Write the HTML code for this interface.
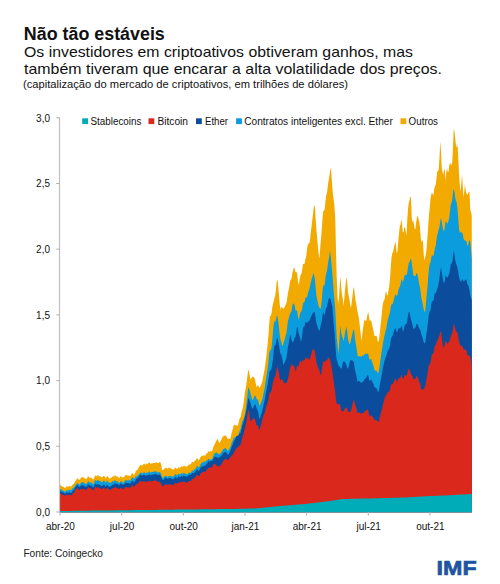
<!DOCTYPE html>
<html><head><meta charset="utf-8">
<style>
html,body{margin:0;padding:0;background:#fff;}
body{width:500px;height:584px;position:relative;overflow:hidden;font-family:"Liberation Sans",sans-serif;color:#000;}
svg{position:absolute;left:0;top:0;}
</style></head><body>
<svg width="500" height="584" viewBox="0 0 500 584" font-family="Liberation Sans">
<g fill="#111">
<text x="23.8" y="39.5" font-size="17.6" font-weight="bold" textLength="141" lengthAdjust="spacingAndGlyphs">Não tão estáveis</text>
<text x="24" y="57" font-size="14.6" textLength="389" lengthAdjust="spacingAndGlyphs">Os investidores em criptoativos obtiveram ganhos, mas</text>
<text x="24" y="73.6" font-size="14.6" textLength="418" lengthAdjust="spacingAndGlyphs">também tiveram que encarar a alta volatilidade dos preços.</text>
<text x="23" y="88" font-size="11" textLength="325" lengthAdjust="spacingAndGlyphs">(capitalização do mercado de criptoativos, em trilhões de dólares)</text>
</g>
<g shape-rendering="geometricPrecision">
<polygon points="60,512.2 60.00,484.4 60.75,485.4 61.50,486.0 62.25,486.2 63.00,486.9 63.75,487.1 64.50,487.7 65.25,488.0 66.00,486.7 66.75,486.3 67.50,486.9 68.25,486.6 69.00,486.0 69.75,486.1 70.50,486.5 71.25,486.4 72.00,485.5 72.75,484.2 73.50,483.9 74.25,483.1 75.00,481.2 75.75,480.4 76.50,479.6 77.25,478.1 78.00,478.8 78.75,479.7 79.50,479.8 80.25,479.2 81.00,477.6 81.75,477.2 82.50,477.3 83.25,477.2 84.00,477.8 84.75,478.3 85.50,478.9 86.25,479.2 87.00,478.3 87.75,476.6 88.50,476.3 89.25,477.4 90.00,477.8 90.75,477.7 91.50,477.8 92.25,478.6 93.00,479.6 93.75,479.0 94.50,476.7 95.25,475.2 96.00,476.0 96.75,476.2 97.50,475.2 98.25,475.4 99.00,476.1 99.75,476.2 100.50,476.5 101.25,477.2 102.00,477.4 102.75,476.7 103.50,476.0 104.25,475.9 105.00,477.2 105.75,478.2 106.50,476.9 107.25,475.7 108.00,476.8 108.75,478.0 109.50,478.4 110.25,478.2 111.00,477.9 111.75,477.3 112.50,476.4 113.25,476.6 114.00,476.5 114.75,475.4 115.50,475.5 116.25,476.5 117.00,476.6 117.75,476.5 118.50,477.6 119.25,478.2 120.00,477.0 120.75,476.0 121.50,476.7 122.25,477.4 123.00,477.5 123.75,477.3 124.50,476.6 125.25,475.2 126.00,474.7 126.75,475.2 127.50,475.4 128.25,475.4 129.00,475.6 129.75,475.9 130.50,475.9 131.25,474.6 132.00,473.0 132.75,473.4 133.50,474.6 134.25,474.7 135.00,473.3 135.75,471.3 136.50,470.3 137.25,469.9 138.00,468.9 138.75,467.6 139.50,466.3 140.25,465.3 141.00,464.7 141.75,465.4 142.50,465.6 143.25,464.5 144.00,463.6 144.75,464.0 145.50,464.8 146.25,464.1 147.00,463.6 147.75,463.8 148.50,463.1 149.25,462.3 150.00,463.3 150.75,463.9 151.50,463.2 152.25,463.2 153.00,463.3 153.75,462.9 154.50,462.9 155.25,462.9 156.00,462.3 156.75,462.6 157.50,463.1 158.25,463.0 159.00,462.4 159.75,462.0 160.50,462.7 161.25,464.7 162.00,469.8 162.75,470.2 163.50,470.1 164.25,468.7 165.00,468.0 165.75,467.7 166.50,468.0 167.25,468.6 168.00,468.4 168.75,467.6 169.50,467.5 170.25,467.9 171.00,468.5 171.75,468.9 172.50,469.2 173.25,469.7 174.00,469.1 174.75,468.1 175.50,467.5 176.25,468.2 177.00,469.2 177.75,468.3 178.50,466.9 179.25,467.3 180.00,468.0 180.75,466.8 181.50,466.2 182.25,467.1 183.00,466.4 183.75,465.6 184.50,466.0 185.25,466.2 186.00,466.6 186.75,466.8 187.50,466.1 188.25,465.2 189.00,464.4 189.75,464.2 190.50,464.5 191.25,463.6 192.00,462.1 192.75,462.1 193.50,462.4 194.25,461.5 195.00,460.7 195.75,460.0 196.50,458.9 197.25,458.2 198.00,459.0 198.75,460.4 199.50,459.5 200.25,457.6 201.00,456.5 201.75,455.7 202.50,455.7 203.25,455.7 204.00,455.0 204.75,455.8 205.50,455.4 206.25,453.6 207.00,453.6 207.75,452.5 208.50,451.0 209.25,451.7 210.00,451.9 210.75,450.9 211.50,451.0 212.25,450.5 213.00,448.2 213.75,446.0 214.50,444.7 215.25,443.0 216.00,441.6 216.75,440.3 217.50,438.5 218.25,440.2 219.00,442.4 219.75,443.1 220.50,441.2 221.25,439.7 222.00,437.9 222.75,436.4 223.50,436.2 224.25,435.9 225.00,435.4 225.75,435.2 226.50,436.5 227.25,438.2 228.00,439.0 228.75,438.7 229.50,438.8 230.25,439.3 231.00,436.0 231.75,432.3 232.50,429.9 233.25,427.0 234.00,424.6 234.75,425.0 235.50,425.3 236.25,424.9 237.00,425.8 237.75,425.8 238.50,423.3 239.25,419.8 240.00,418.1 240.75,416.4 241.50,412.6 242.25,409.8 243.00,407.2 243.75,401.9 244.50,395.6 245.25,390.5 246.00,386.4 246.75,381.5 247.50,375.5 248.25,369.4 249.00,371.6 249.75,375.6 250.50,379.7 251.25,378.3 252.00,377.5 252.75,376.2 253.50,377.1 254.25,377.8 255.00,379.4 255.75,383.6 256.50,387.3 257.25,386.1 258.00,384.9 258.75,386.8 259.50,388.3 260.25,386.6 261.00,384.9 261.75,382.9 262.50,380.6 263.25,376.3 264.00,372.3 264.75,368.6 265.50,362.6 266.25,357.1 267.00,349.7 267.75,343.0 268.50,334.4 269.25,323.2 270.00,315.2 270.75,316.3 271.50,313.5 272.25,307.7 273.00,303.4 273.75,301.2 274.50,298.3 275.25,295.2 276.00,289.6 276.75,281.0 277.50,279.9 278.25,287.5 279.00,295.1 279.75,304.7 280.50,310.0 281.25,307.2 282.00,306.8 282.75,308.2 283.50,308.9 284.25,307.8 285.00,305.9 285.75,304.4 286.50,303.0 287.25,298.0 288.00,292.6 288.75,289.7 289.50,285.1 290.25,280.6 291.00,279.8 291.75,277.5 292.50,272.3 293.25,270.1 294.00,267.6 294.75,268.7 295.50,272.0 296.25,272.2 297.00,272.4 297.75,279.1 298.50,284.9 299.25,282.0 300.00,277.1 300.75,274.7 301.50,273.5 302.25,269.6 303.00,263.9 303.75,263.9 304.50,263.9 305.25,259.6 306.00,257.7 306.75,251.4 307.50,246.0 308.25,243.8 309.00,243.6 309.75,242.1 310.50,235.1 311.25,228.7 312.00,222.2 312.75,216.3 313.50,209.6 314.25,204.8 315.00,207.5 315.75,220.0 316.50,231.0 317.25,238.7 318.00,247.3 318.75,254.7 319.50,258.6 320.25,247.2 321.00,238.4 321.75,229.8 322.50,218.5 323.25,211.0 324.00,210.7 324.75,209.0 325.50,200.8 326.25,195.0 327.00,192.7 327.75,186.4 328.50,180.9 329.25,177.3 330.00,171.3 330.75,167.5 331.50,175.3 332.25,186.2 333.00,194.9 333.75,200.5 334.50,207.2 335.25,218.4 336.00,250.8 336.75,278.5 337.50,295.6 338.25,304.1 339.00,297.7 339.75,284.4 340.50,276.5 341.25,287.8 342.00,294.4 342.75,298.8 343.50,305.7 344.25,299.1 345.00,290.3 345.75,283.3 346.50,276.7 347.25,282.5 348.00,292.0 348.75,296.6 349.50,299.8 350.25,305.0 351.00,308.0 351.75,302.1 352.50,295.5 353.25,289.5 354.00,286.9 354.75,294.4 355.50,300.0 356.25,303.7 357.00,308.8 357.75,312.8 358.50,315.9 359.25,321.5 360.00,327.6 360.75,334.4 361.50,341.2 362.25,334.3 363.00,328.7 363.75,323.4 364.50,319.5 365.25,320.3 366.00,321.6 366.75,319.1 367.50,314.5 368.25,311.8 369.00,317.2 369.75,320.7 370.50,320.2 371.25,320.7 372.00,324.6 372.75,327.7 373.50,331.3 374.25,335.3 375.00,336.2 375.75,335.7 376.50,335.8 377.25,338.8 378.00,341.9 378.75,341.5 379.50,335.4 380.25,328.5 381.00,321.2 381.75,314.2 382.50,305.9 383.25,302.1 384.00,300.4 384.75,298.4 385.50,292.8 386.25,291.4 387.00,295.5 387.75,295.0 388.50,290.4 389.25,286.3 390.00,278.8 390.75,267.6 391.50,257.6 392.25,253.5 393.00,252.0 393.75,248.7 394.50,245.0 395.25,241.3 396.00,246.0 396.75,253.4 397.50,250.9 398.25,241.5 399.00,233.6 399.75,227.1 400.50,224.7 401.25,219.3 402.00,222.9 402.75,232.3 403.50,232.3 404.25,227.5 405.00,227.4 405.75,231.7 406.50,235.9 407.25,220.2 408.00,209.2 408.75,202.8 409.50,200.5 410.25,196.7 411.00,197.4 411.75,217.7 412.50,222.2 413.25,220.4 414.00,224.5 414.75,229.3 415.50,229.0 416.25,221.6 417.00,216.9 417.75,215.8 418.50,219.3 419.25,221.5 420.00,227.3 420.75,237.9 421.50,242.6 422.25,239.7 423.00,242.3 423.75,255.3 424.50,260.6 425.25,257.1 426.00,253.8 426.75,246.2 427.50,236.6 428.25,225.0 429.00,214.8 429.75,207.8 430.50,198.8 431.25,194.4 432.00,192.2 432.75,194.8 433.50,194.7 434.25,188.9 435.00,185.9 435.75,184.8 436.50,178.0 437.25,171.6 438.00,171.1 438.75,169.3 439.50,157.2 440.25,141.5 441.00,151.4 441.75,167.9 442.50,172.3 443.25,174.7 444.00,170.6 444.75,168.8 445.50,181.3 446.25,172.2 447.00,168.0 447.75,172.1 448.50,171.7 449.25,165.7 450.00,162.4 450.75,164.3 451.50,165.2 452.25,162.2 453.00,146.4 453.75,128.5 454.50,131.7 455.25,139.1 456.00,145.6 456.75,147.5 457.50,144.1 458.25,157.1 459.00,174.0 459.75,184.4 460.50,191.9 461.25,184.7 462.00,173.9 462.75,186.1 463.50,197.7 464.25,191.2 465.00,184.1 465.75,191.5 466.50,193.7 467.25,194.4 468.00,193.9 468.75,191.8 469.50,191.8 470.25,209.6 471.00,212.1 471.75,215.7 472,512.2" fill="#F2A900"/>
<polygon points="60,512.2 60.00,488.4 60.75,489.3 61.50,489.8 62.25,490.0 63.00,490.7 63.75,490.8 64.50,491.4 65.25,491.7 66.00,490.4 66.75,490.0 67.50,490.5 68.25,490.2 69.00,489.7 69.75,489.7 70.50,490.1 71.25,490.0 72.00,489.1 72.75,487.9 73.50,487.8 74.25,487.1 75.00,485.4 75.75,484.7 76.50,484.0 77.25,482.7 78.00,483.4 78.75,484.4 79.50,484.5 80.25,484.0 81.00,482.6 81.75,482.3 82.50,482.3 83.25,482.2 84.00,482.8 84.75,483.2 85.50,483.9 86.25,484.1 87.00,483.2 87.75,481.6 88.50,481.3 89.25,482.3 90.00,482.6 90.75,482.5 91.50,482.6 92.25,483.3 93.00,484.2 93.75,483.7 94.50,481.5 95.25,480.0 96.00,480.7 96.75,480.9 97.50,479.9 98.25,480.2 99.00,480.8 99.75,480.9 100.50,481.2 101.25,481.9 102.00,482.1 102.75,481.4 103.50,480.7 104.25,480.6 105.00,481.8 105.75,482.8 106.50,481.5 107.25,480.4 108.00,481.4 108.75,482.6 109.50,482.9 110.25,482.7 111.00,482.5 111.75,482.0 112.50,481.1 113.25,481.3 114.00,481.2 114.75,480.2 115.50,480.4 116.25,481.3 117.00,481.5 117.75,481.3 118.50,482.4 119.25,483.0 120.00,481.9 120.75,481.0 121.50,481.6 122.25,482.4 123.00,482.4 123.75,482.3 124.50,481.6 125.25,480.3 126.00,479.9 126.75,480.4 127.50,480.4 128.25,480.2 129.00,480.3 129.75,480.4 130.50,480.3 131.25,478.9 132.00,477.2 132.75,477.4 133.50,478.3 134.25,478.6 135.00,477.9 135.75,476.6 136.50,476.2 137.25,476.3 138.00,475.5 138.75,474.5 139.50,473.5 140.25,472.8 141.00,472.5 141.75,473.3 142.50,473.6 143.25,472.7 144.00,471.9 144.75,472.5 145.50,473.3 146.25,472.9 147.00,472.5 147.75,472.8 148.50,472.2 149.25,471.3 150.00,472.2 150.75,472.7 151.50,472.0 152.25,471.9 153.00,471.9 153.75,471.5 154.50,471.4 155.25,471.4 156.00,471.2 156.75,471.7 157.50,472.4 158.25,472.5 159.00,472.2 159.75,472.1 160.50,472.9 161.25,474.4 162.00,477.4 162.75,477.8 163.50,477.8 164.25,476.6 165.00,476.0 165.75,475.7 166.50,476.1 167.25,476.8 168.00,476.7 168.75,475.9 169.50,475.7 170.25,475.9 171.00,476.2 171.75,476.5 172.50,476.5 173.25,476.8 174.00,476.0 174.75,474.8 175.50,474.0 176.25,474.6 177.00,475.6 177.75,474.8 178.50,473.5 179.25,473.9 180.00,474.7 180.75,473.7 181.50,473.1 182.25,474.1 183.00,473.4 183.75,472.8 184.50,473.3 185.25,473.6 186.00,474.1 186.75,474.5 187.50,474.0 188.25,473.3 189.00,472.7 189.75,472.6 190.50,472.9 191.25,472.0 192.00,470.5 192.75,470.5 193.50,470.7 194.25,469.8 195.00,469.0 195.75,468.2 196.50,466.9 197.25,466.1 198.00,466.7 198.75,467.8 199.50,466.7 200.25,464.7 201.00,463.5 201.75,462.5 202.50,462.4 203.25,462.2 204.00,461.3 204.75,461.9 205.50,461.6 206.25,460.2 207.00,460.5 207.75,459.7 208.50,458.5 209.25,459.5 210.00,459.9 210.75,459.2 211.50,459.4 212.25,459.0 213.00,456.8 213.75,454.8 214.50,453.6 215.25,453.0 216.00,452.8 216.75,452.6 217.50,453.4 218.25,453.8 219.00,454.2 219.75,454.2 220.50,453.1 221.25,452.4 222.00,451.4 222.75,449.7 223.50,449.0 224.25,448.7 225.00,448.2 225.75,448.0 226.50,449.1 227.25,450.4 228.00,450.8 228.75,450.1 229.50,448.5 230.25,447.2 231.00,445.1 231.75,442.6 232.50,441.3 233.25,439.5 234.00,437.6 234.75,437.5 235.50,437.2 236.25,436.3 237.00,436.6 237.75,436.6 238.50,434.7 239.25,431.9 240.00,430.3 240.75,428.4 241.50,424.5 242.25,421.6 243.00,420.3 243.75,418.4 244.50,415.7 245.25,412.5 246.00,407.3 246.75,401.4 247.50,394.5 248.25,387.4 249.00,388.2 249.75,390.7 250.50,393.3 251.25,396.3 252.00,399.4 252.75,399.9 253.50,398.3 254.25,396.4 255.00,395.2 255.75,396.4 256.50,398.9 257.25,399.4 258.00,399.8 258.75,403.1 259.50,406.1 260.25,404.4 261.00,402.7 261.75,400.7 262.50,398.5 263.25,394.5 264.00,391.0 264.75,387.7 265.50,382.3 266.25,377.4 267.00,372.4 267.75,367.7 268.50,361.5 269.25,352.9 270.00,350.1 270.75,350.6 271.50,347.8 272.25,340.8 273.00,331.5 273.75,324.3 274.50,321.0 275.25,321.7 276.00,320.1 276.75,315.7 277.50,316.3 278.25,321.8 279.00,327.4 279.75,334.8 280.50,339.8 281.25,341.5 282.00,345.3 282.75,345.9 283.50,342.9 284.25,340.8 285.00,337.9 285.75,335.3 286.50,332.4 287.25,326.3 288.00,320.8 288.75,318.4 289.50,315.7 290.25,313.0 291.00,312.5 291.75,309.9 292.50,304.8 293.25,304.1 294.00,303.3 294.75,305.9 295.50,310.4 296.25,310.5 297.00,310.2 297.75,315.4 298.50,320.0 299.25,317.5 300.00,313.5 300.75,311.8 301.50,311.2 302.25,308.2 303.00,303.2 303.75,302.2 304.50,302.2 305.25,298.5 306.00,296.8 306.75,298.0 307.50,295.4 308.25,292.1 309.00,290.5 309.75,287.8 310.50,283.8 311.25,281.0 312.00,278.0 312.75,275.6 313.50,273.1 314.25,275.6 315.00,280.2 315.75,289.0 316.50,296.2 317.25,299.7 318.00,303.4 318.75,306.2 319.50,307.7 320.25,309.5 321.00,306.7 321.75,300.7 322.50,291.2 323.25,285.1 324.00,286.0 324.75,284.6 325.50,277.6 326.25,273.3 327.00,271.3 327.75,265.5 328.50,260.5 329.25,256.8 330.00,250.6 330.75,256.7 331.50,265.1 332.25,272.6 333.00,282.4 333.75,292.5 334.50,300.7 335.25,310.4 336.00,324.6 336.75,337.4 337.50,345.1 338.25,353.7 339.00,347.5 339.75,334.3 340.50,325.6 341.25,332.9 342.00,336.3 342.75,337.7 343.50,341.3 344.25,337.6 345.00,332.7 345.75,329.4 346.50,326.4 347.25,331.6 348.00,339.0 348.75,342.3 349.50,344.2 350.25,343.1 351.00,339.7 351.75,336.7 352.50,333.1 353.25,330.1 354.00,329.7 354.75,336.8 355.50,342.3 356.25,346.1 357.00,351.2 357.75,356.4 358.50,356.3 359.25,356.1 360.00,356.4 360.75,356.5 361.50,356.7 362.25,355.2 363.00,355.4 363.75,355.7 364.50,354.1 365.25,353.8 366.00,353.8 366.75,354.1 367.50,353.4 368.25,354.1 369.00,357.9 369.75,359.9 370.50,359.1 371.25,359.2 372.00,361.8 372.75,363.7 373.50,366.0 374.25,369.6 375.00,370.8 375.75,370.4 376.50,370.4 377.25,371.9 378.00,373.5 378.75,371.7 379.50,366.8 380.25,361.1 381.00,355.8 381.75,351.1 382.50,346.3 383.25,341.5 384.00,337.8 384.75,334.2 385.50,331.2 386.25,328.6 387.00,324.2 387.75,320.0 388.50,317.2 389.25,314.9 390.00,312.4 390.75,307.2 391.50,304.1 392.25,304.4 393.00,303.1 393.75,300.3 394.50,297.3 395.25,294.4 396.00,294.8 396.75,296.8 397.50,294.7 398.25,290.7 399.00,288.2 399.75,287.0 400.50,284.8 401.25,279.9 402.00,279.3 402.75,282.7 403.50,280.4 404.25,275.9 405.00,274.7 405.75,275.0 406.50,275.2 407.25,272.4 408.00,267.3 408.75,263.5 409.50,262.0 410.25,260.0 411.00,258.3 411.75,263.3 412.50,268.6 413.25,274.9 414.00,275.8 414.75,276.2 415.50,276.2 416.25,273.6 417.00,273.3 417.75,275.7 418.50,279.7 419.25,284.3 420.00,287.6 420.75,292.5 421.50,298.8 422.25,301.6 423.00,305.7 423.75,309.7 424.50,312.0 425.25,310.6 426.00,302.3 426.75,294.5 427.50,286.4 428.25,276.6 429.00,268.3 429.75,263.8 430.50,262.8 431.25,257.7 432.00,254.5 432.75,255.9 433.50,256.0 434.25,251.4 435.00,247.7 435.75,245.4 436.50,239.7 437.25,235.0 438.00,232.5 438.75,229.2 439.50,226.9 440.25,221.5 441.00,218.1 441.75,221.4 442.50,226.6 443.25,229.9 444.00,231.4 444.75,227.8 445.50,221.8 446.25,221.3 447.00,223.6 447.75,223.2 448.50,220.7 449.25,217.6 450.00,211.6 450.75,204.8 451.50,202.6 452.25,200.0 453.00,192.3 453.75,188.7 454.50,192.2 455.25,198.0 456.00,201.1 456.75,202.7 457.50,209.5 458.25,218.4 459.00,228.9 459.75,232.3 460.50,232.6 461.25,232.8 462.00,231.9 462.75,234.5 463.50,238.6 464.25,239.9 465.00,240.7 465.75,240.6 466.50,241.6 467.25,245.2 468.00,245.7 468.75,242.0 469.50,240.1 470.25,242.1 471.00,249.7 471.75,258.4 472,512.2" fill="#0A9CDC"/>
<polygon points="60,512.2 60.00,490.3 60.75,491.2 61.50,491.7 62.25,492.0 63.00,492.6 63.75,492.8 64.50,493.4 65.25,493.7 66.00,492.6 66.75,492.3 67.50,492.9 68.25,492.7 69.00,492.3 69.75,492.4 70.50,492.9 71.25,492.9 72.00,492.1 72.75,490.8 73.50,490.5 74.25,489.7 75.00,487.8 75.75,487.0 76.50,486.1 77.25,484.8 78.00,485.6 78.75,486.7 79.50,487.0 80.25,486.6 81.00,485.4 81.75,485.2 82.50,485.3 83.25,485.2 84.00,485.8 84.75,486.2 85.50,486.8 86.25,487.0 87.00,486.1 87.75,484.6 88.50,484.3 89.25,485.3 90.00,485.6 90.75,485.6 91.50,485.7 92.25,486.6 93.00,487.6 93.75,487.1 94.50,485.0 95.25,483.7 96.00,484.5 96.75,484.8 97.50,483.9 98.25,484.2 99.00,484.8 99.75,484.9 100.50,485.2 101.25,485.9 102.00,486.0 102.75,485.4 103.50,484.7 104.25,484.6 105.00,485.8 105.75,486.7 106.50,485.5 107.25,484.4 108.00,485.4 108.75,486.5 109.50,486.9 110.25,486.6 111.00,486.3 111.75,485.6 112.50,484.6 113.25,484.7 114.00,484.5 114.75,483.4 115.50,483.3 116.25,484.2 117.00,484.1 117.75,483.9 118.50,484.8 119.25,485.2 120.00,484.0 120.75,483.1 121.50,483.8 122.25,484.6 123.00,484.7 123.75,484.6 124.50,484.0 125.25,482.8 126.00,482.4 126.75,482.9 127.50,483.0 128.25,483.0 129.00,483.2 129.75,483.5 130.50,483.5 131.25,482.3 132.00,480.8 132.75,481.1 133.50,482.2 134.25,482.4 135.00,481.2 135.75,479.5 136.50,478.6 137.25,478.4 138.00,477.6 138.75,476.6 139.50,475.6 140.25,474.9 141.00,474.6 141.75,475.4 142.50,475.8 143.25,475.0 144.00,474.4 144.75,475.0 145.50,475.9 146.25,475.5 147.00,475.2 147.75,475.5 148.50,475.0 149.25,474.1 150.00,475.0 150.75,475.5 151.50,474.8 152.25,474.7 153.00,474.7 153.75,474.3 154.50,474.3 155.25,474.2 156.00,473.9 156.75,474.4 157.50,475.0 158.25,475.1 159.00,474.8 159.75,474.6 160.50,475.4 161.25,476.8 162.00,479.5 162.75,479.9 163.50,479.9 164.25,478.7 165.00,478.1 165.75,477.8 166.50,478.2 167.25,478.8 168.00,478.7 168.75,478.0 169.50,477.9 170.25,478.1 171.00,478.5 171.75,478.8 172.50,478.9 173.25,479.3 174.00,478.6 174.75,477.5 175.50,476.8 176.25,477.4 177.00,478.4 177.75,477.6 178.50,476.3 179.25,476.7 180.00,477.5 180.75,476.5 181.50,475.9 182.25,476.9 183.00,476.2 183.75,475.5 184.50,476.0 185.25,476.2 186.00,476.6 186.75,476.9 187.50,476.3 188.25,475.5 189.00,474.9 189.75,474.7 190.50,475.1 191.25,474.3 192.00,473.0 192.75,473.1 193.50,473.4 194.25,472.6 195.00,472.0 195.75,471.3 196.50,470.1 197.25,469.4 198.00,470.0 198.75,471.2 199.50,470.2 200.25,468.3 201.00,467.2 201.75,466.4 202.50,466.3 203.25,466.2 204.00,465.4 204.75,466.1 205.50,465.6 206.25,463.8 207.00,463.7 207.75,462.5 208.50,461.0 209.25,461.6 210.00,461.7 210.75,460.6 211.50,461.0 212.25,461.0 213.00,459.3 213.75,457.7 214.50,457.0 215.25,456.8 216.00,457.0 216.75,457.2 217.50,457.8 218.25,457.7 219.00,457.5 219.75,457.3 220.50,456.3 221.25,455.8 222.00,454.9 222.75,453.4 223.50,452.7 224.25,452.5 225.00,452.0 225.75,451.8 226.50,453.0 227.25,454.3 228.00,454.6 228.75,454.0 229.50,452.4 230.25,451.1 231.00,448.9 231.75,446.4 232.50,445.1 233.25,443.2 234.00,440.9 234.75,439.7 235.50,438.4 236.25,436.4 237.00,435.6 237.75,435.9 238.50,435.3 239.25,433.7 240.00,433.4 240.75,432.6 241.50,428.9 242.25,425.6 243.00,423.8 243.75,421.5 244.50,418.3 245.25,415.5 246.00,412.2 246.75,408.2 247.50,403.2 248.25,398.1 249.00,398.9 249.75,400.9 250.50,403.0 251.25,405.6 252.00,408.3 252.75,408.7 253.50,407.2 254.25,405.3 255.00,404.2 255.75,405.3 256.50,408.1 257.25,409.7 258.00,411.2 258.75,415.4 259.50,419.3 260.25,417.2 261.00,415.0 261.75,412.5 262.50,409.9 263.25,406.0 264.00,402.9 264.75,400.1 265.50,395.2 266.25,390.9 267.00,387.3 267.75,384.0 268.50,379.3 269.25,372.4 270.00,370.2 270.75,370.9 271.50,368.6 272.25,363.8 273.00,359.2 273.75,349.9 274.50,345.4 275.25,345.4 276.00,343.2 276.75,338.6 277.50,338.1 278.25,341.7 279.00,345.3 279.75,350.6 280.50,353.9 281.25,354.6 282.00,357.3 282.75,361.5 283.50,364.7 284.25,363.4 285.00,361.4 285.75,359.9 286.50,358.1 287.25,352.0 288.00,346.4 288.75,343.3 289.50,338.7 290.25,334.3 291.00,337.2 291.75,340.8 292.50,342.1 293.25,342.5 294.00,339.5 294.75,337.4 295.50,337.0 296.25,332.3 297.00,327.0 297.75,327.4 298.50,332.8 299.25,334.7 300.00,337.2 300.75,341.8 301.50,339.7 302.25,334.8 303.00,328.2 303.75,326.2 304.50,326.3 305.25,323.0 306.00,321.6 306.75,322.8 307.50,322.6 308.25,321.2 309.00,321.2 309.75,320.1 310.50,317.8 311.25,316.3 312.00,314.7 312.75,313.6 313.50,311.9 314.25,311.8 315.00,313.5 315.75,319.0 316.50,323.5 317.25,325.5 318.00,328.2 318.75,330.0 319.50,331.0 320.25,327.4 321.00,324.3 321.75,321.4 322.50,315.3 323.25,312.0 324.00,314.2 324.75,314.9 325.50,310.4 326.25,307.8 327.00,307.1 327.75,302.9 328.50,299.4 329.25,297.9 330.00,298.0 330.75,299.8 331.50,303.6 332.25,306.6 333.00,314.8 333.75,324.7 334.50,332.9 335.25,342.2 336.00,354.3 336.75,360.1 337.50,361.9 338.25,364.9 339.00,366.0 339.75,367.0 340.50,367.8 341.25,369.0 342.00,367.0 342.75,363.0 343.50,361.3 344.25,361.6 345.00,361.9 345.75,363.5 346.50,365.4 347.25,367.7 348.00,368.9 348.75,366.3 349.50,362.5 350.25,360.3 351.00,360.0 351.75,360.6 352.50,360.6 353.25,361.2 354.00,363.1 354.75,368.2 355.50,372.3 356.25,375.0 357.00,378.9 357.75,382.5 358.50,380.8 359.25,381.0 360.00,381.8 360.75,382.4 361.50,383.0 362.25,381.9 363.00,381.5 363.75,381.3 364.50,379.3 365.25,378.4 366.00,377.9 366.75,376.7 367.50,375.1 368.25,375.8 369.00,379.3 369.75,381.2 370.50,380.1 371.25,379.6 372.00,381.4 372.75,382.5 373.50,384.1 374.25,386.8 375.00,387.6 375.75,387.7 376.50,388.2 377.25,390.2 378.00,392.2 378.75,391.1 379.50,387.2 380.25,382.6 381.00,378.4 381.75,374.7 382.50,370.5 383.25,366.3 384.00,363.2 384.75,360.0 385.50,357.5 386.25,356.2 387.00,353.4 387.75,350.8 388.50,349.5 389.25,348.4 390.00,345.5 390.75,340.3 391.50,336.9 392.25,336.6 393.00,334.8 393.75,331.7 394.50,329.5 395.25,328.0 396.00,329.4 396.75,332.2 397.50,331.4 398.25,328.9 399.00,327.9 399.75,328.5 400.50,328.2 401.25,325.7 402.00,326.8 402.75,331.3 403.50,331.0 404.25,326.7 405.00,324.9 405.75,324.3 406.50,323.7 407.25,320.5 408.00,315.3 408.75,312.1 409.50,311.9 410.25,316.2 411.00,319.2 411.75,321.9 412.50,324.8 413.25,328.6 414.00,328.7 414.75,328.3 415.50,327.5 416.25,324.5 417.00,323.5 417.75,324.8 418.50,326.7 419.25,328.6 420.00,329.4 420.75,331.5 421.50,335.0 422.25,336.6 423.00,339.4 423.75,342.2 424.50,343.5 425.25,342.3 426.00,336.7 426.75,331.6 427.50,326.1 428.25,319.3 429.00,313.8 429.75,311.4 430.50,309.9 431.25,304.6 432.00,300.9 432.75,301.2 433.50,300.4 434.25,295.5 435.00,292.7 435.75,293.3 436.50,290.7 437.25,288.5 438.00,286.8 438.75,282.4 439.50,278.0 440.25,271.0 441.00,267.5 441.75,271.6 442.50,277.2 443.25,281.2 444.00,283.6 444.75,280.9 445.50,275.9 446.25,275.7 447.00,277.8 447.75,277.6 448.50,275.6 449.25,273.4 450.00,269.2 450.75,264.3 451.50,263.4 452.25,262.0 453.00,256.4 453.75,250.8 454.50,254.3 455.25,260.1 456.00,263.4 456.75,265.6 457.50,268.2 458.25,271.9 459.00,277.0 459.75,279.9 460.50,281.3 461.25,281.7 462.00,279.2 462.75,279.7 463.50,281.5 464.25,280.9 465.00,280.3 465.75,279.4 466.50,279.8 467.25,283.8 468.00,285.2 468.75,286.2 469.50,290.2 470.25,295.1 471.00,298.0 471.75,299.9 472,512.2" fill="#0B4D9C"/>
<polygon points="60,512.2 60.00,492.9 60.75,493.8 61.50,494.2 62.25,494.4 63.00,494.9 63.75,495.0 64.50,495.5 65.25,495.8 66.00,494.7 66.75,494.5 67.50,495.1 68.25,495.0 69.00,494.6 69.75,494.8 70.50,495.3 71.25,495.4 72.00,494.6 72.75,493.3 73.50,493.0 74.25,492.2 75.00,490.4 75.75,489.6 76.50,488.7 77.25,487.4 78.00,488.4 78.75,489.7 79.50,490.0 80.25,489.9 81.00,488.8 81.75,488.8 82.50,488.9 83.25,488.7 84.00,489.1 84.75,489.4 85.50,490.0 86.25,490.1 87.00,489.1 87.75,487.5 88.50,487.1 89.25,488.0 90.00,488.2 90.75,488.2 91.50,488.4 92.25,489.3 93.00,490.3 93.75,489.9 94.50,487.9 95.25,486.6 96.00,487.4 96.75,487.7 97.50,486.9 98.25,487.2 99.00,487.8 99.75,487.9 100.50,488.2 101.25,488.9 102.00,489.1 102.75,488.4 103.50,487.8 104.25,487.7 105.00,488.8 105.75,489.8 106.50,488.6 107.25,487.5 108.00,488.5 108.75,489.6 109.50,490.0 110.25,489.7 111.00,489.5 111.75,488.9 112.50,488.0 113.25,488.2 114.00,488.0 114.75,487.0 115.50,487.1 116.25,488.0 117.00,488.0 117.75,487.9 118.50,488.8 119.25,489.3 120.00,488.2 120.75,487.4 121.50,488.0 122.25,488.8 123.00,488.9 123.75,488.8 124.50,488.3 125.25,487.1 126.00,486.7 126.75,487.2 127.50,487.4 128.25,487.3 129.00,487.5 129.75,487.7 130.50,487.7 131.25,486.5 132.00,485.1 132.75,485.4 133.50,486.4 134.25,486.7 135.00,485.9 135.75,484.5 136.50,484.0 137.25,484.0 138.00,483.4 138.75,482.5 139.50,481.7 140.25,481.1 141.00,480.9 141.75,481.8 142.50,482.1 143.25,481.3 144.00,480.7 144.75,481.3 145.50,482.1 146.25,481.8 147.00,481.5 147.75,481.8 148.50,481.3 149.25,480.5 150.00,481.3 150.75,481.8 151.50,481.1 152.25,481.0 153.00,481.0 153.75,480.6 154.50,480.6 155.25,480.6 156.00,480.4 156.75,481.0 157.50,481.7 158.25,481.9 159.00,481.7 159.75,481.7 160.50,482.6 161.25,483.7 162.00,485.8 162.75,486.1 163.50,486.1 164.25,485.0 165.00,484.4 165.75,484.1 166.50,484.5 167.25,485.1 168.00,485.0 168.75,484.3 169.50,484.1 170.25,484.3 171.00,484.6 171.75,484.8 172.50,484.8 173.25,485.1 174.00,484.4 174.75,483.2 175.50,482.5 176.25,483.0 177.00,484.0 177.75,483.2 178.50,482.0 179.25,482.4 180.00,483.1 180.75,482.1 181.50,481.6 182.25,482.4 183.00,481.8 183.75,481.3 184.50,481.7 185.25,482.0 186.00,482.5 186.75,482.8 187.50,482.3 188.25,481.7 189.00,481.1 189.75,481.0 190.50,481.2 191.25,480.4 192.00,478.9 192.75,478.8 193.50,478.9 194.25,478.0 195.00,477.2 195.75,476.5 196.50,475.5 197.25,474.8 198.00,475.5 198.75,476.6 199.50,475.8 200.25,474.0 201.00,473.0 201.75,472.2 202.50,472.2 203.25,472.1 204.00,471.4 204.75,472.1 205.50,471.7 206.25,470.0 207.00,469.9 207.75,468.8 208.50,467.4 209.25,468.0 210.00,468.1 210.75,467.1 211.50,467.3 212.25,467.3 213.00,465.5 213.75,464.1 214.50,463.9 215.25,464.1 216.00,464.8 216.75,465.4 217.50,466.2 218.25,466.3 219.00,466.4 219.75,466.2 220.50,465.1 221.25,464.4 222.00,463.3 222.75,461.7 223.50,460.7 224.25,460.1 225.00,459.2 225.75,458.6 226.50,459.2 227.25,460.0 228.00,460.0 228.75,458.9 229.50,457.9 230.25,457.7 231.00,456.6 231.75,455.3 232.50,455.0 233.25,454.1 234.00,452.4 234.75,451.3 235.50,450.1 236.25,448.3 237.00,447.5 237.75,447.8 238.50,447.1 239.25,445.6 240.00,445.3 240.75,444.5 241.50,440.8 242.25,437.4 243.00,435.4 243.75,432.8 244.50,429.5 245.25,426.5 246.00,423.2 246.75,419.2 247.50,414.2 248.25,409.2 249.00,412.2 249.75,417.1 250.50,422.0 251.25,420.8 252.00,419.7 252.75,418.2 253.50,418.4 254.25,418.4 255.00,419.2 255.75,422.1 256.50,425.2 257.25,425.4 258.00,425.6 258.75,428.2 259.50,430.5 260.25,427.8 261.00,425.1 261.75,422.2 262.50,419.0 263.25,415.9 264.00,414.2 264.75,412.8 265.50,409.4 266.25,406.7 267.00,404.5 267.75,402.6 268.50,399.3 269.25,394.1 270.00,392.4 270.75,392.8 271.50,390.5 272.25,386.0 273.00,382.3 273.75,379.5 274.50,377.4 275.25,376.2 276.00,373.2 276.75,368.0 277.50,366.9 278.25,370.2 279.00,373.5 279.75,378.3 280.50,380.7 281.25,379.0 282.00,379.0 282.75,380.6 283.50,381.8 284.25,383.3 285.00,383.1 285.75,383.2 286.50,383.3 287.25,380.8 288.00,378.8 288.75,375.6 289.50,371.3 290.25,367.0 291.00,365.6 291.75,364.2 292.50,365.5 293.25,365.9 294.00,365.6 294.75,367.9 295.50,371.8 296.25,369.4 297.00,365.5 297.75,366.3 298.50,366.5 299.25,363.5 300.00,361.2 300.75,360.7 301.50,362.2 302.25,361.8 303.00,359.8 303.75,360.3 304.50,360.6 305.25,357.9 306.00,357.0 306.75,358.4 307.50,358.5 308.25,358.3 309.00,359.4 309.75,359.5 310.50,356.5 311.25,354.0 312.00,351.5 312.75,349.3 313.50,349.1 314.25,350.0 315.00,352.4 315.75,358.1 316.50,363.0 317.25,365.1 318.00,367.6 318.75,369.2 319.50,370.7 320.25,374.4 321.00,374.9 321.75,371.2 322.50,364.9 323.25,360.9 324.00,361.5 324.75,362.7 325.50,360.6 326.25,359.9 327.00,360.8 327.75,358.8 328.50,357.4 329.25,358.1 330.00,359.7 330.75,362.6 331.50,367.0 332.25,370.9 333.00,376.3 333.75,382.4 334.50,387.2 335.25,392.8 336.00,400.7 336.75,403.8 337.50,403.9 338.25,404.8 339.00,404.2 339.75,403.5 340.50,406.6 341.25,410.4 342.00,411.4 342.75,411.0 343.50,411.6 344.25,410.0 345.00,408.3 345.75,407.7 346.50,407.4 347.25,408.8 348.00,412.1 348.75,412.3 349.50,411.6 350.25,412.2 351.00,410.4 351.75,407.5 352.50,404.2 353.25,401.2 354.00,399.4 354.75,403.0 355.50,406.1 356.25,408.1 357.00,411.0 357.75,413.7 358.50,412.2 359.25,412.4 360.00,413.0 360.75,413.5 361.50,414.0 362.25,413.0 363.00,412.9 363.75,413.0 364.50,411.5 365.25,411.0 366.00,410.8 366.75,410.1 367.50,409.2 368.25,410.5 369.00,414.2 369.75,416.6 370.50,415.7 371.25,415.0 372.00,416.3 372.75,417.0 373.50,418.0 374.25,420.1 375.00,420.4 375.75,420.0 376.50,419.9 377.25,421.0 378.00,422.3 378.75,421.4 379.50,418.7 380.25,415.4 381.00,412.4 381.75,409.9 382.50,406.7 383.25,403.2 384.00,400.6 384.75,398.0 385.50,396.0 386.25,395.4 387.00,393.7 387.75,392.2 388.50,391.7 389.25,391.5 390.00,389.8 390.75,386.1 391.50,384.0 392.25,384.4 393.00,383.6 393.75,381.7 394.50,380.0 395.25,378.6 396.00,379.6 396.75,381.8 397.50,381.0 398.25,378.9 399.00,377.9 399.75,378.0 400.50,377.5 401.25,375.1 402.00,375.7 402.75,379.2 403.50,378.6 404.25,375.7 405.00,375.0 405.75,375.4 406.50,375.7 407.25,373.9 408.00,370.4 408.75,368.7 409.50,369.3 410.25,372.1 411.00,373.7 411.75,375.1 412.50,376.6 413.25,378.9 414.00,379.2 414.75,379.1 415.50,378.7 416.25,376.5 417.00,376.0 417.75,377.3 418.50,379.6 419.25,382.1 420.00,383.7 420.75,386.5 421.50,390.3 422.25,389.3 423.00,389.3 423.75,389.3 424.50,388.1 425.25,385.7 426.00,381.5 426.75,377.6 427.50,373.5 428.25,368.2 429.00,364.6 429.75,364.5 430.50,362.8 431.25,357.8 432.00,354.2 432.75,354.0 433.50,352.9 434.25,348.3 435.00,345.4 435.75,345.2 436.50,342.8 437.25,340.7 438.00,339.2 438.75,337.0 439.50,335.6 440.25,332.0 441.00,331.3 441.75,336.7 442.50,343.3 443.25,347.3 444.00,347.1 444.75,344.7 445.50,341.1 446.25,341.3 447.00,343.4 447.75,343.6 448.50,342.5 449.25,341.5 450.00,339.7 450.75,335.9 451.50,334.8 452.25,333.3 453.00,328.4 453.75,323.5 454.50,325.5 455.25,329.2 456.00,331.0 456.75,331.8 457.50,333.2 458.25,336.7 459.00,341.3 459.75,344.0 460.50,345.7 461.25,346.6 462.00,345.5 462.75,346.8 463.50,349.2 464.25,349.5 465.00,349.8 465.75,349.7 466.50,350.6 467.25,354.4 468.00,356.1 468.75,355.1 469.50,355.6 470.25,356.8 471.00,360.6 471.75,367.3 472,512.2" fill="#DA291C"/>
<polygon points="60,512.2 60.00,511.0 60.75,511.0 61.50,511.0 62.25,511.0 63.00,511.0 63.75,511.0 64.50,510.9 65.25,510.9 66.00,510.9 66.75,510.9 67.50,510.9 68.25,510.9 69.00,510.9 69.75,510.9 70.50,510.9 71.25,510.9 72.00,510.9 72.75,510.9 73.50,510.8 74.25,510.8 75.00,510.8 75.75,510.8 76.50,510.8 77.25,510.8 78.00,510.8 78.75,510.8 79.50,510.8 80.25,510.8 81.00,510.8 81.75,510.7 82.50,510.7 83.25,510.7 84.00,510.7 84.75,510.7 85.50,510.7 86.25,510.7 87.00,510.7 87.75,510.7 88.50,510.7 89.25,510.7 90.00,510.6 90.75,510.6 91.50,510.6 92.25,510.6 93.00,510.6 93.75,510.6 94.50,510.6 95.25,510.6 96.00,510.6 96.75,510.6 97.50,510.6 98.25,510.6 99.00,510.5 99.75,510.5 100.50,510.5 101.25,510.5 102.00,510.5 102.75,510.5 103.50,510.5 104.25,510.5 105.00,510.5 105.75,510.5 106.50,510.5 107.25,510.4 108.00,510.4 108.75,510.4 109.50,510.4 110.25,510.4 111.00,510.4 111.75,510.4 112.50,510.4 113.25,510.4 114.00,510.4 114.75,510.4 115.50,510.3 116.25,510.3 117.00,510.3 117.75,510.3 118.50,510.3 119.25,510.3 120.00,510.3 120.75,510.3 121.50,510.3 122.25,510.3 123.00,510.3 123.75,510.2 124.50,510.2 125.25,510.2 126.00,510.2 126.75,510.2 127.50,510.2 128.25,510.2 129.00,510.2 129.75,510.2 130.50,510.2 131.25,510.2 132.00,510.2 132.75,510.1 133.50,510.1 134.25,510.1 135.00,510.1 135.75,510.1 136.50,510.1 137.25,510.1 138.00,510.1 138.75,510.1 139.50,510.1 140.25,510.1 141.00,510.0 141.75,510.0 142.50,510.0 143.25,510.0 144.00,510.0 144.75,510.0 145.50,510.0 146.25,510.0 147.00,510.0 147.75,510.0 148.50,510.0 149.25,509.9 150.00,509.9 150.75,509.9 151.50,509.9 152.25,509.9 153.00,509.9 153.75,509.9 154.50,509.9 155.25,509.9 156.00,509.9 156.75,509.9 157.50,509.9 158.25,509.8 159.00,509.8 159.75,509.8 160.50,509.8 161.25,509.8 162.00,509.8 162.75,509.8 163.50,509.8 164.25,509.8 165.00,509.8 165.75,509.8 166.50,509.7 167.25,509.7 168.00,509.7 168.75,509.7 169.50,509.7 170.25,509.7 171.00,509.7 171.75,509.7 172.50,509.7 173.25,509.7 174.00,509.7 174.75,509.6 175.50,509.6 176.25,509.6 177.00,509.6 177.75,509.6 178.50,509.6 179.25,509.6 180.00,509.6 180.75,509.6 181.50,509.6 182.25,509.6 183.00,509.6 183.75,509.5 184.50,509.5 185.25,509.5 186.00,509.5 186.75,509.5 187.50,509.5 188.25,509.5 189.00,509.5 189.75,509.5 190.50,509.5 191.25,509.5 192.00,509.4 192.75,509.4 193.50,509.4 194.25,509.4 195.00,509.4 195.75,509.4 196.50,509.4 197.25,509.4 198.00,509.4 198.75,509.4 199.50,509.4 200.25,509.4 201.00,509.3 201.75,509.3 202.50,509.3 203.25,509.3 204.00,509.3 204.75,509.3 205.50,509.3 206.25,509.3 207.00,509.3 207.75,509.3 208.50,509.3 209.25,509.2 210.00,509.2 210.75,509.2 211.50,509.2 212.25,509.2 213.00,509.2 213.75,509.2 214.50,509.2 215.25,509.2 216.00,509.2 216.75,509.2 217.50,509.1 218.25,509.1 219.00,509.1 219.75,509.1 220.50,509.1 221.25,509.1 222.00,509.1 222.75,509.1 223.50,509.1 224.25,509.1 225.00,509.1 225.75,509.1 226.50,509.0 227.25,509.0 228.00,509.0 228.75,509.0 229.50,509.0 230.25,509.0 231.00,509.0 231.75,509.0 232.50,508.9 233.25,508.9 234.00,508.9 234.75,508.9 235.50,508.9 236.25,508.9 237.00,508.9 237.75,508.8 238.50,508.8 239.25,508.8 240.00,508.8 240.75,508.8 241.50,508.8 242.25,508.8 243.00,508.7 243.75,508.7 244.50,508.7 245.25,508.7 246.00,508.7 246.75,508.7 247.50,508.6 248.25,508.6 249.00,508.6 249.75,508.6 250.50,508.6 251.25,508.6 252.00,508.6 252.75,508.5 253.50,508.5 254.25,508.5 255.00,508.5 255.75,508.4 256.50,508.4 257.25,508.3 258.00,508.2 258.75,508.1 259.50,508.1 260.25,508.0 261.00,507.9 261.75,507.8 262.50,507.8 263.25,507.7 264.00,507.6 264.75,507.5 265.50,507.4 266.25,507.4 267.00,507.3 267.75,507.2 268.50,507.1 269.25,507.1 270.00,507.0 270.75,506.9 271.50,506.9 272.25,506.8 273.00,506.7 273.75,506.6 274.50,506.6 275.25,506.5 276.00,506.4 276.75,506.3 277.50,506.2 278.25,506.2 279.00,506.1 279.75,506.0 280.50,506.0 281.25,505.9 282.00,505.8 282.75,505.8 283.50,505.7 284.25,505.7 285.00,505.6 285.75,505.5 286.50,505.5 287.25,505.4 288.00,505.4 288.75,505.3 289.50,505.2 290.25,505.2 291.00,505.1 291.75,505.1 292.50,505.0 293.25,504.9 294.00,504.9 294.75,504.8 295.50,504.8 296.25,504.7 297.00,504.6 297.75,504.6 298.50,504.5 299.25,504.5 300.00,504.4 300.75,504.3 301.50,504.3 302.25,504.2 303.00,504.2 303.75,504.1 304.50,504.0 305.25,504.0 306.00,503.9 306.75,503.8 307.50,503.7 308.25,503.6 309.00,503.5 309.75,503.4 310.50,503.3 311.25,503.2 312.00,503.2 312.75,503.1 313.50,503.0 314.25,502.9 315.00,502.8 315.75,502.7 316.50,502.6 317.25,502.5 318.00,502.4 318.75,502.4 319.50,502.3 320.25,502.2 321.00,502.1 321.75,502.0 322.50,501.9 323.25,501.8 324.00,501.7 324.75,501.6 325.50,501.5 326.25,501.4 327.00,501.4 327.75,501.3 328.50,501.2 329.25,501.1 330.00,501.0 330.75,500.9 331.50,500.8 332.25,500.6 333.00,500.5 333.75,500.4 334.50,500.3 335.25,500.2 336.00,500.0 336.75,499.9 337.50,499.8 338.25,499.7 339.00,499.6 339.75,499.4 340.50,499.3 341.25,499.2 342.00,499.1 342.75,499.0 343.50,499.0 344.25,499.0 345.00,498.9 345.75,498.9 346.50,498.9 347.25,498.9 348.00,498.9 348.75,498.9 349.50,498.9 350.25,498.8 351.00,498.8 351.75,498.8 352.50,498.8 353.25,498.8 354.00,498.8 354.75,498.8 355.50,498.7 356.25,498.7 357.00,498.7 357.75,498.7 358.50,498.7 359.25,498.7 360.00,498.6 360.75,498.6 361.50,498.6 362.25,498.6 363.00,498.6 363.75,498.6 364.50,498.6 365.25,498.5 366.00,498.5 366.75,498.5 367.50,498.5 368.25,498.5 369.00,498.5 369.75,498.4 370.50,498.4 371.25,498.4 372.00,498.4 372.75,498.4 373.50,498.3 374.25,498.3 375.00,498.3 375.75,498.3 376.50,498.3 377.25,498.2 378.00,498.2 378.75,498.2 379.50,498.2 380.25,498.2 381.00,498.1 381.75,498.1 382.50,498.1 383.25,498.1 384.00,498.1 384.75,498.0 385.50,498.0 386.25,498.0 387.00,498.0 387.75,498.0 388.50,497.9 389.25,497.9 390.00,497.9 390.75,497.9 391.50,497.9 392.25,497.8 393.00,497.8 393.75,497.8 394.50,497.8 395.25,497.8 396.00,497.7 396.75,497.7 397.50,497.7 398.25,497.7 399.00,497.7 399.75,497.6 400.50,497.6 401.25,497.6 402.00,497.6 402.75,497.6 403.50,497.5 404.25,497.5 405.00,497.5 405.75,497.5 406.50,497.4 407.25,497.4 408.00,497.3 408.75,497.3 409.50,497.2 410.25,497.2 411.00,497.1 411.75,497.1 412.50,497.1 413.25,497.0 414.00,497.0 414.75,496.9 415.50,496.9 416.25,496.8 417.00,496.8 417.75,496.7 418.50,496.7 419.25,496.6 420.00,496.6 420.75,496.6 421.50,496.5 422.25,496.5 423.00,496.4 423.75,496.4 424.50,496.3 425.25,496.3 426.00,496.2 426.75,496.2 427.50,496.1 428.25,496.1 429.00,496.1 429.75,496.0 430.50,496.0 431.25,496.0 432.00,495.9 432.75,495.9 433.50,495.9 434.25,495.9 435.00,495.8 435.75,495.8 436.50,495.8 437.25,495.8 438.00,495.7 438.75,495.7 439.50,495.7 440.25,495.7 441.00,495.6 441.75,495.6 442.50,495.6 443.25,495.6 444.00,495.5 444.75,495.5 445.50,495.5 446.25,495.4 447.00,495.4 447.75,495.3 448.50,495.3 449.25,495.3 450.00,495.2 450.75,495.2 451.50,495.1 452.25,495.1 453.00,495.1 453.75,495.0 454.50,495.0 455.25,494.9 456.00,494.9 456.75,494.8 457.50,494.8 458.25,494.8 459.00,494.7 459.75,494.7 460.50,494.6 461.25,494.6 462.00,494.5 462.75,494.5 463.50,494.5 464.25,494.4 465.00,494.4 465.75,494.3 466.50,494.3 467.25,494.3 468.00,494.2 468.75,494.2 469.50,494.1 470.25,494.1 471.00,494.0 471.75,494.0 472,512.2" fill="#00ACB7"/>
</g>
<line x1="59.5" y1="117.8" x2="59.5" y2="512" stroke="#c0c0c0" stroke-width="1.2"/>
<line x1="56.3" y1="512.0" x2="60" y2="512.0" stroke="#b0b0b0" stroke-width="1"/>
<line x1="56.3" y1="446.3" x2="60" y2="446.3" stroke="#b0b0b0" stroke-width="1"/>
<line x1="56.3" y1="380.6" x2="60" y2="380.6" stroke="#b0b0b0" stroke-width="1"/>
<line x1="56.3" y1="314.9" x2="60" y2="314.9" stroke="#b0b0b0" stroke-width="1"/>
<line x1="56.3" y1="249.2" x2="60" y2="249.2" stroke="#b0b0b0" stroke-width="1"/>
<line x1="56.3" y1="183.5" x2="60" y2="183.5" stroke="#b0b0b0" stroke-width="1"/>
<line x1="56.3" y1="117.8" x2="60" y2="117.8" stroke="#b0b0b0" stroke-width="1"/>
<line x1="60.0" y1="512" x2="60.0" y2="515.6" stroke="#b0b0b0" stroke-width="1"/>
<line x1="121.7" y1="512" x2="121.7" y2="515.6" stroke="#b0b0b0" stroke-width="1"/>
<line x1="183.3" y1="512" x2="183.3" y2="515.6" stroke="#b0b0b0" stroke-width="1"/>
<line x1="245.0" y1="512" x2="245.0" y2="515.6" stroke="#b0b0b0" stroke-width="1"/>
<line x1="306.7" y1="512" x2="306.7" y2="515.6" stroke="#b0b0b0" stroke-width="1"/>
<line x1="368.3" y1="512" x2="368.3" y2="515.6" stroke="#b0b0b0" stroke-width="1"/>
<line x1="430.0" y1="512" x2="430.0" y2="515.6" stroke="#b0b0b0" stroke-width="1"/>

<g font-size="10" fill="#111">
<text x="50" y="515.7" text-anchor="end">0,0</text>
<text x="50" y="450.0" text-anchor="end">0,5</text>
<text x="50" y="384.3" text-anchor="end">1,0</text>
<text x="50" y="318.6" text-anchor="end">1,5</text>
<text x="50" y="252.9" text-anchor="end">2,0</text>
<text x="50" y="187.2" text-anchor="end">2,5</text>
<text x="50" y="121.5" text-anchor="end">3,0</text>

<text x="60.4" y="529.8" text-anchor="middle">abr-20</text>
<text x="122.1" y="529.8" text-anchor="middle">jul-20</text>
<text x="183.7" y="529.8" text-anchor="middle">out-20</text>
<text x="245.4" y="529.8" text-anchor="middle">jan-21</text>
<text x="307.1" y="529.8" text-anchor="middle">abr-21</text>
<text x="368.7" y="529.8" text-anchor="middle">jul-21</text>
<text x="430.4" y="529.8" text-anchor="middle">out-21</text>

</g>
<g font-size="10" fill="#111">
<rect x="82.2" y="118.3" width="5.8" height="5.8" fill="#00ACB7"/><text x="90.5" y="124.5" textLength="50.9" lengthAdjust="spacingAndGlyphs">Stablecoins</text>
<rect x="148.5" y="118.3" width="5.8" height="5.8" fill="#DA291C"/><text x="157.4" y="124.5" textLength="30.6" lengthAdjust="spacingAndGlyphs">Bitcoin</text>
<rect x="196" y="118.3" width="5.8" height="5.8" fill="#0B4D9C"/><text x="205" y="124.5" textLength="23" lengthAdjust="spacingAndGlyphs">Ether</text>
<rect x="236.1" y="118.3" width="5.8" height="5.8" fill="#0A9CDC"/><text x="244.2" y="124.5" textLength="148.6" lengthAdjust="spacingAndGlyphs">Contratos inteligentes excl. Ether</text>
<rect x="400.5" y="118.3" width="5.8" height="5.8" fill="#F2A900"/><text x="408.6" y="124.5" textLength="29.4" lengthAdjust="spacingAndGlyphs">Outros</text>
</g>
<text x="23.4" y="557" font-size="10.2" fill="#222" textLength="79.6" lengthAdjust="spacingAndGlyphs">Fonte: Coingecko</text>
<text x="436.6" y="575.2" font-size="20.7" font-weight="bold" fill="#1D55A2" stroke="#1D55A2" stroke-width="0.7" textLength="40" lengthAdjust="spacingAndGlyphs">IMF</text>
</svg>
</body></html>
